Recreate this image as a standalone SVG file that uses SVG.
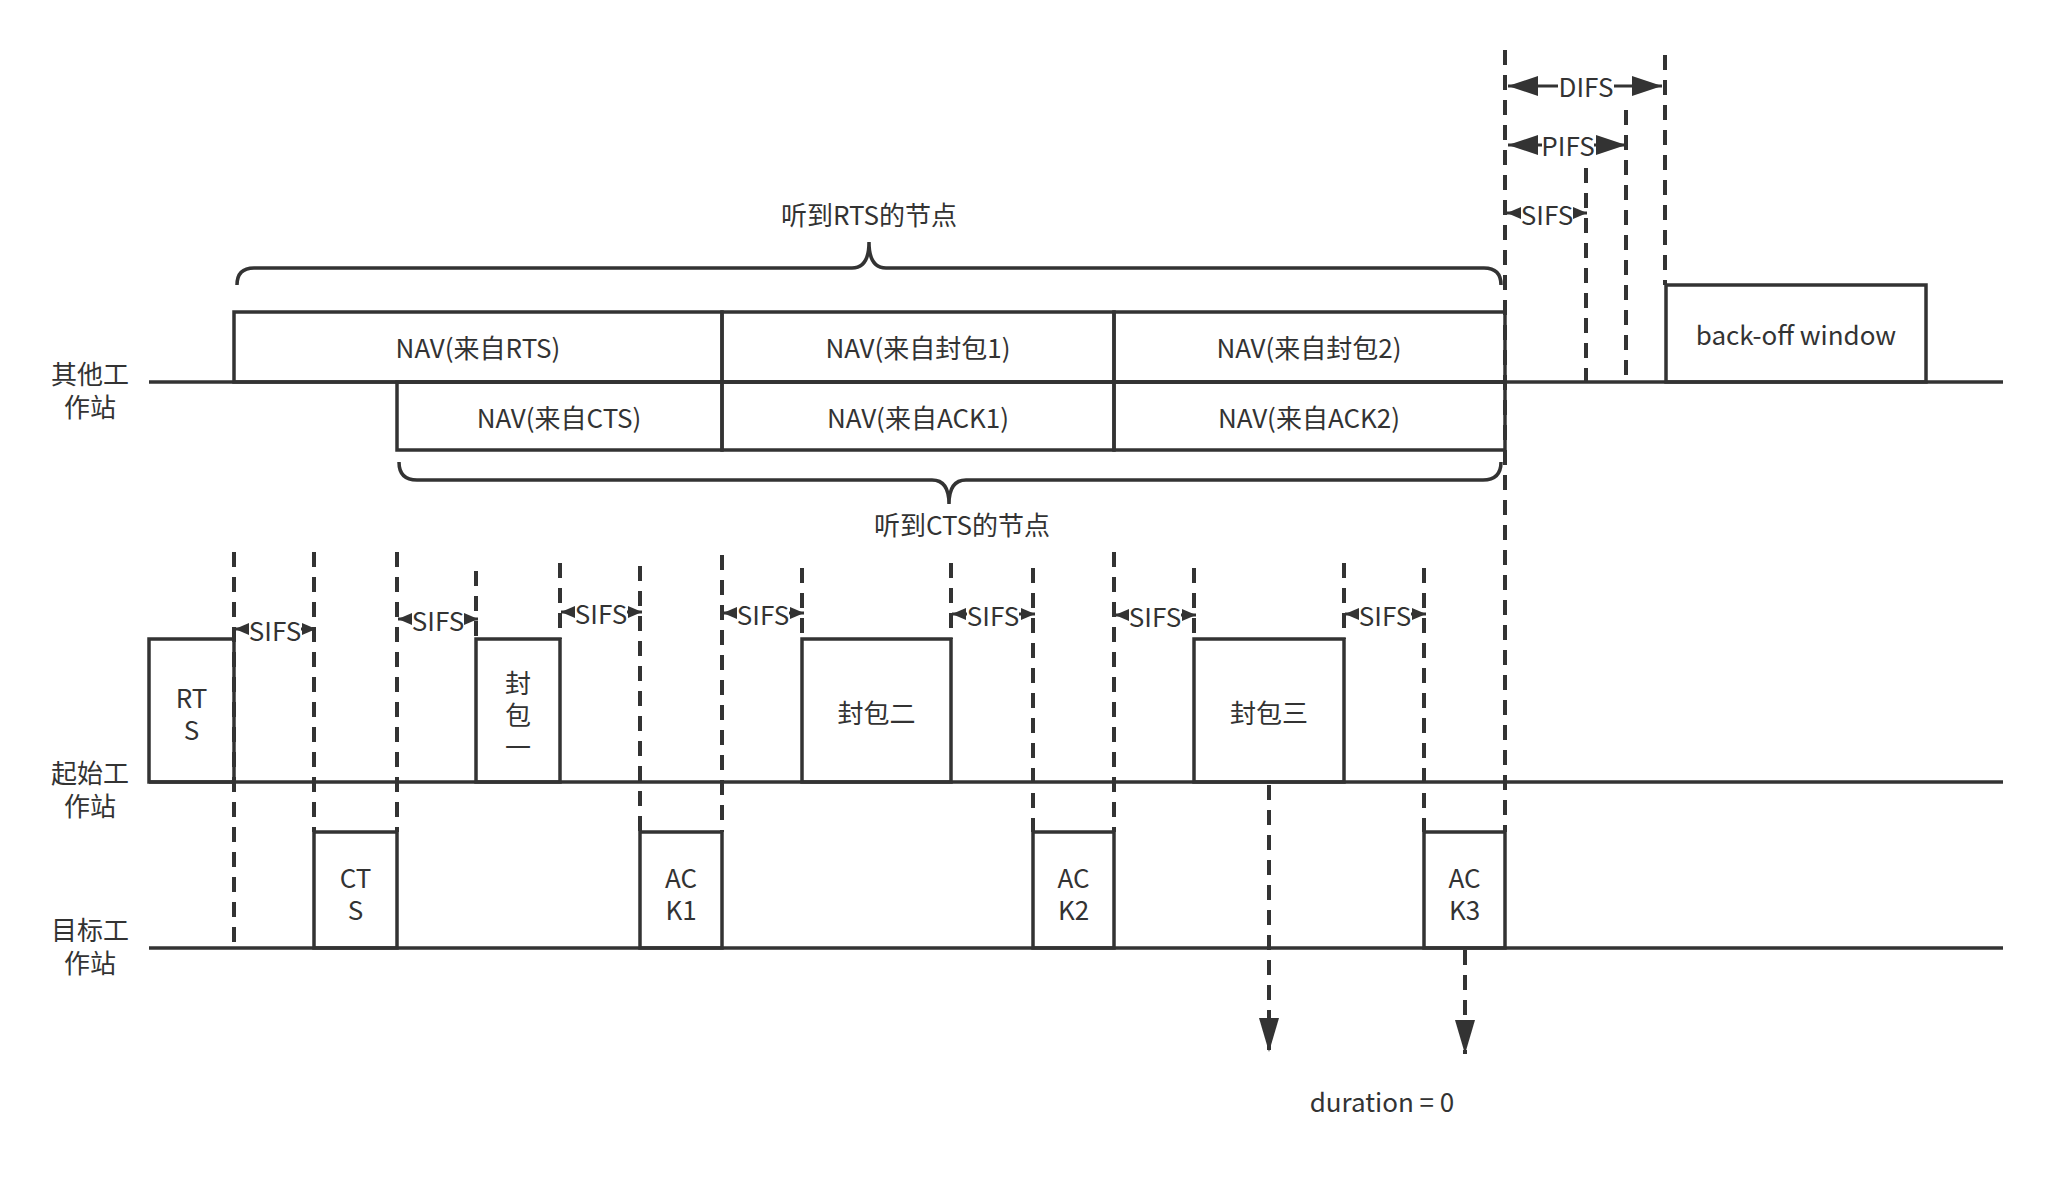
<svg xmlns="http://www.w3.org/2000/svg" width="2052" height="1190" viewBox="0 0 2052 1190">
<defs>
<style>
.s{fill:none;stroke:#333;stroke-width:3.5}
.b{fill:none;stroke:#333;stroke-width:3.5}
.d{fill:none;stroke:#333;stroke-width:4;stroke-dasharray:15 10}
.a{fill:none;stroke:#333;stroke-width:3}
.bg{fill:#fff}
text{font-family:"Noto Sans CJK SC","Noto Sans",sans-serif;font-size:26px;fill:#333;text-anchor:middle}
</style>
<marker id="sm" markerUnits="userSpaceOnUse" markerWidth="14" markerHeight="12" viewBox="0 0 14 12" refX="14" refY="6" orient="auto-start-reverse"><path d="M0,0L14,6L0,12z" fill="#333"/></marker>
<marker id="lg" markerUnits="userSpaceOnUse" markerWidth="30" markerHeight="20" viewBox="0 0 30 20" refX="30" refY="10" orient="auto-start-reverse"><path d="M0,0L30,10L0,20z" fill="#333"/></marker>
<marker id="dn" markerUnits="userSpaceOnUse" markerWidth="34" markerHeight="20" viewBox="0 0 34 20" refX="34" refY="10" orient="auto"><path d="M0,0L34,10L0,20z" fill="#333"/></marker>
</defs>
<rect width="2052" height="1190" fill="#fff"/>

<g id="timelines">
<line class="s" x1="149" y1="382" x2="2003" y2="382"/>
<line class="s" x1="149" y1="782" x2="2003" y2="782"/>
<line class="s" x1="149" y1="948" x2="2003" y2="948"/>
</g>

<g id="label-other"><text x="90" y="384">其他工<tspan x="90" dy="33">作站</tspan></text></g>
<g id="label-init"><text x="90" y="783">起始工<tspan x="90" dy="33">作站</tspan></text></g>
<g id="label-target"><text x="90" y="940">目标工<tspan x="90" dy="33">作站</tspan></text></g>

<g id="nav-rts"><rect class="b" x="234" y="312" width="488" height="70"/><text x="478" y="358">NAV(来自RTS)</text></g>
<g id="nav-pkt1"><rect class="b" x="722" y="312" width="392" height="70"/><text x="918" y="358">NAV(来自封包1)</text></g>
<g id="nav-pkt2"><rect class="b" x="1114" y="312" width="391" height="70"/><text x="1309" y="358">NAV(来自封包2)</text></g>
<g id="nav-cts"><rect class="b" x="397" y="382" width="325" height="68"/><text x="559" y="428">NAV(来自CTS)</text></g>
<g id="nav-ack1"><rect class="b" x="722" y="382" width="392" height="68"/><text x="918" y="428">NAV(来自ACK1)</text></g>
<g id="nav-ack2"><rect class="b" x="1114" y="382" width="391" height="68"/><text x="1309" y="428">NAV(来自ACK2)</text></g>

<g id="brace-rts"><path class="s" d="M237,285 Q237,268 254,268 H852 Q869,268 869,242 Q869,268 886,268 H1484 Q1501,268 1501,285"/><text x="869" y="225">听到RTS的节点</text></g>
<g id="brace-cts"><path class="s" d="M399,462 Q399,480 417,480 H932 Q949,480 949,504 Q949,480 966,480 H1483 Q1501,480 1501,462"/><text x="962" y="535">听到CTS的节点</text></g>

<g id="backoff"><rect class="b" x="1666" y="285" width="260" height="97"/><text x="1796" y="345">back-off window</text></g>

<g id="rts"><rect class="b" x="149" y="639" width="85" height="143"/><text x="191.5" y="708">RT<tspan x="191.5" dy="32">S</tspan></text></g>
<g id="pkt1"><rect class="b" x="476" y="639" width="84" height="143"/><text x="518" y="693">封<tspan x="518" dy="32">包</tspan><tspan x="518" dy="32">一</tspan></text></g>
<g id="pkt2"><rect class="b" x="802" y="639" width="149" height="143"/><text x="876.5" y="723">封包二</text></g>
<g id="pkt3"><rect class="b" x="1194" y="639" width="150" height="143"/><text x="1269" y="723">封包三</text></g>
<g id="cts"><rect class="b" x="314" y="832" width="83" height="116"/><text x="355.5" y="888">CT<tspan x="355.5" dy="32">S</tspan></text></g>
<g id="ack1"><rect class="b" x="640" y="832" width="82" height="116"/><text x="681" y="888">AC<tspan x="681" dy="32">K1</tspan></text></g>
<g id="ack2"><rect class="b" x="1033" y="832" width="81" height="116"/><text x="1073.5" y="888">AC<tspan x="1073.5" dy="32">K2</tspan></text></g>
<g id="ack3"><rect class="b" x="1424" y="832" width="81" height="116"/><text x="1464.5" y="888">AC<tspan x="1464.5" dy="32">K3</tspan></text></g>

<g id="connectors">
<line class="d" x1="234" y1="552" x2="234" y2="946"/>
<line class="d" x1="314" y1="552" x2="314" y2="832"/>
<line class="d" x1="397" y1="552" x2="397" y2="832"/>
<line class="d" x1="476" y1="571" x2="476" y2="639"/>
<line class="d" x1="560" y1="563" x2="560" y2="639"/>
<line class="d" x1="640" y1="566" x2="640" y2="832"/>
<line class="d" x1="722" y1="555" x2="722" y2="832"/>
<line class="d" x1="802" y1="568" x2="802" y2="639"/>
<line class="d" x1="951" y1="563" x2="951" y2="639"/>
<line class="d" x1="1033" y1="568" x2="1033" y2="832"/>
<line class="d" x1="1114" y1="552" x2="1114" y2="832"/>
<line class="d" x1="1194" y1="568" x2="1194" y2="639"/>
<line class="d" x1="1344" y1="563" x2="1344" y2="639"/>
<line class="d" x1="1424" y1="568" x2="1424" y2="832"/>
<line class="d" x1="1505" y1="50" x2="1505" y2="832"/>
<line class="d" x1="1586" y1="168" x2="1586" y2="382"/>
<line class="d" x1="1626" y1="110" x2="1626" y2="382"/>
<line class="d" x1="1665" y1="55" x2="1665" y2="285"/>

<line class="a" x1="235" y1="629" x2="316" y2="629" marker-start="url(#sm)" marker-end="url(#sm)"/>
<rect class="bg" x="249" y="614" width="52" height="30"/><text x="275" y="641">SIFS</text>
<line class="a" x1="398" y1="619" x2="478" y2="619" marker-start="url(#sm)" marker-end="url(#sm)"/>
<rect class="bg" x="412" y="604" width="52" height="30"/><text x="438" y="631">SIFS</text>
<line class="a" x1="561" y1="612" x2="642" y2="612" marker-start="url(#sm)" marker-end="url(#sm)"/>
<rect class="bg" x="575" y="597" width="52" height="30"/><text x="601" y="624">SIFS</text>
<line class="a" x1="723" y1="613" x2="804" y2="613" marker-start="url(#sm)" marker-end="url(#sm)"/>
<rect class="bg" x="737" y="598" width="52" height="30"/><text x="763" y="625">SIFS</text>
<line class="a" x1="952" y1="614" x2="1035" y2="614" marker-start="url(#sm)" marker-end="url(#sm)"/>
<rect class="bg" x="967" y="599" width="52" height="30"/><text x="993" y="626">SIFS</text>
<line class="a" x1="1115" y1="615" x2="1196" y2="615" marker-start="url(#sm)" marker-end="url(#sm)"/>
<rect class="bg" x="1129" y="600" width="52" height="30"/><text x="1155" y="627">SIFS</text>
<line class="a" x1="1345" y1="614" x2="1426" y2="614" marker-start="url(#sm)" marker-end="url(#sm)"/>
<rect class="bg" x="1359" y="599" width="52" height="30"/><text x="1385" y="626">SIFS</text>

<line class="a" x1="1508" y1="86" x2="1662" y2="86" marker-start="url(#lg)" marker-end="url(#lg)"/>
<rect class="bg" x="1558" y="71" width="56" height="30"/><text x="1586" y="97">DIFS</text>
<line class="a" x1="1508" y1="145" x2="1626" y2="145" marker-start="url(#lg)" marker-end="url(#lg)"/>
<rect class="bg" x="1542" y="130" width="52" height="30"/><text x="1568" y="156">PIFS</text>
<line class="a" x1="1507" y1="213" x2="1587" y2="213" marker-start="url(#sm)" marker-end="url(#sm)"/>
<rect class="bg" x="1521" y="198" width="52" height="30"/><text x="1547" y="225">SIFS</text>

<line class="d" x1="1269" y1="785" x2="1269" y2="1052" marker-end="url(#dn)"/>
<line class="d" x1="1465" y1="950" x2="1465" y2="1054" marker-end="url(#dn)"/>
<text x="1382" y="1112">duration = 0</text>
</g>
</svg>
